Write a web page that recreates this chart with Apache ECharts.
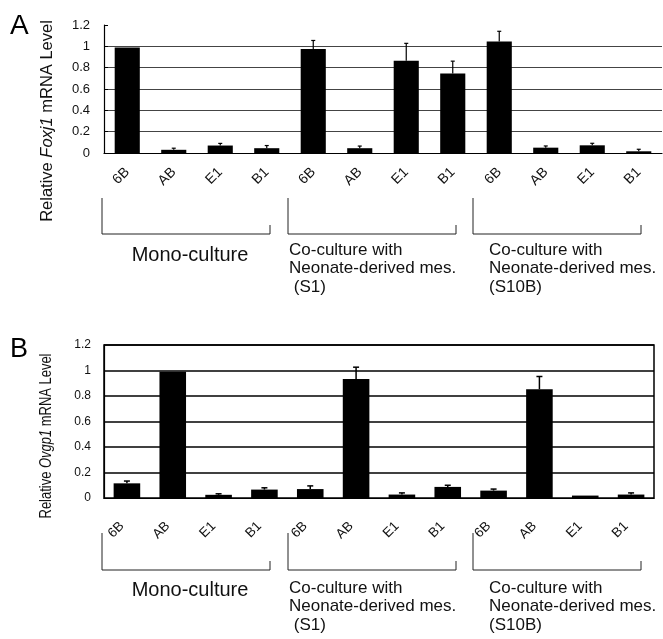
<!DOCTYPE html>
<html>
<head>
<meta charset="utf-8">
<script src="https://cdn.jsdelivr.net/npm/echarts@6/dist/echarts.min.js"></script>
<style>
  html, body { margin: 0; padding: 0; background: #fff; }
  #main { width: 663px; height: 639px; }
</style>
</head>
<body>
<div id="main"></div>
<script>
// categories (3 groups x 4 cell lines)
var categories = ['6B', 'AB', 'E1', 'B1', '6B', 'AB', 'E1', 'B1', '6B', 'AB', 'E1', 'B1'];
var groupNames = ['Mono-culture', 'Co-culture with\nNeonate-derived mes.\n (S1)', 'Co-culture with\nNeonate-derived mes.\n(S10B)'];
var yTicks = [0, 0.2, 0.4, 0.6, 0.8, 1, 1.2];

// A: Foxj1, mean and upper error
var foxj1 = [0.99, 0.03, 0.07, 0.045, 0.975, 0.045, 0.865, 0.745, 1.045, 0.05, 0.072, 0.016];
var foxj1Sd = [0, 0.015, 0.02, 0.025, 0.08, 0.02, 0.163, 0.116, 0.096, 0.016, 0.019, 0.019];

// B: Ovgp1
var ovgp1 = [0.115, 0.99, 0.025, 0.066, 0.07, 0.934, 0.027, 0.087, 0.058, 0.853, 0.019, 0.027];
var ovgp1Sd = [0.018, 0, 0.008, 0.014, 0.025, 0.092, 0.013, 0.013, 0.012, 0.1, 0.006, 0.013];

var FONT = '"Liberation Sans", Arial, sans-serif';
var chart = echarts.init(document.getElementById('main'));

function errorSeries(idx, vals, sds, capW, lw) {
    return {
        type: 'custom',
        xAxisIndex: idx,
        yAxisIndex: idx,
        z: 5,
        silent: true,
        encode: { x: 0, y: 1 },
        data: vals.map(function (v, i) { return [i, v, v + sds[i]]; }),
        renderItem: function (params, api) {
            var top = api.coord([api.value(0), api.value(1)]);
            var hi = api.coord([api.value(0), api.value(2)]);
            if (top[1] - hi[1] < 1) return;
            return {
                type: 'group',
                children: [
                    { type: 'line', shape: { x1: top[0], y1: top[1], x2: hi[0], y2: hi[1] }, style: { stroke: '#000', lineWidth: lw } },
                    { type: 'line', shape: { x1: hi[0] - capW / 2, y1: hi[1], x2: hi[0] + capW / 2, y2: hi[1] }, style: { stroke: '#000', lineWidth: lw } }
                ]
            };
        }
    };
}

function yAxisCfg(idx, fs, margin, gridColor, gridW, inside, showMax) {
    return {
        type: 'value',
        gridIndex: idx,
        min: yTicks[0],
        max: yTicks[yTicks.length - 1],
        interval: yTicks[1] - yTicks[0],
        axisLine: { show: true, lineStyle: { color: '#000', width: 1.2 } },
        axisTick: { show: inside, inside: true, length: 4, lineStyle: { color: '#000' } },
        axisLabel: { color: '#111', fontSize: fs, fontFamily: FONT, margin: margin },
        splitLine: { show: true, showMinLine: false, showMaxLine: showMax, lineStyle: { color: gridColor, width: gridW } }
    };
}

function xAxisCfg(idx, fs, margin, pad) {
    return {
        type: 'category',
        gridIndex: idx,
        data: categories,
        axisLine: { show: true, lineStyle: { color: '#000', width: 1.2 } },
        axisTick: { show: false },
        axisLabel: { rotate: 45, interval: 0, color: '#111', fontSize: fs, fontFamily: FONT, margin: margin, padding: [0, pad, 0, 0] }
    };
}

// group brackets and captions (annotation layout)
var bracketLeft = [102, 288, 473];
var bracketW = 168;
var captionX = [190, 289, 489];

function panelGraphics(top, bottom, shortTop, monoY, coY, lineH) {
    var out = [];
    for (var g = 0; g < 3; g++) {
        var l = bracketLeft[g], r = l + bracketW;
        out.push({
            type: 'polyline',
            shape: { points: [[l, top], [l, bottom], [r, bottom], [r, shortTop]] },
            style: { stroke: '#222', lineWidth: 1, fill: null }
        });
        if (g === 0) {
            out.push({
                type: 'text', x: captionX[g], y: monoY,
                style: { text: groupNames[g], font: '20px ' + FONT, fill: '#111', align: 'center', verticalAlign: 'middle' }
            });
        } else {
            out.push({
                type: 'text', x: captionX[g], y: coY - lineH / 2,
                style: { text: groupNames[g], fontSize: 17, fontFamily: FONT, lineHeight: lineH, fill: '#111', align: 'left', verticalAlign: 'top' }
            });
        }
    }
    return out;
}

function yName(x, y, gene, fs, squeeze) {
    return {
        type: 'text', x: x, y: y, rotation: Math.PI / 2, scaleX: squeeze,
        style: {
            text: 'Relative {i|' + gene + '} mRNA Level',
            fontSize: fs, fontFamily: FONT, fill: '#111', align: 'center', verticalAlign: 'middle',
            rich: { i: { fontStyle: 'italic', fontSize: fs, fontFamily: FONT, fill: '#111' } }
        }
    };
}

var graphics = []
    .concat(panelGraphics(198, 234, 225, 255, 250, 18.5))
    .concat(panelGraphics(533, 570, 561, 590, 588, 18.5));
graphics.push(yName(47, 121, 'Foxj1', 16.5, 1));
graphics.push(yName(47, 436, 'Ovgp1', 16, 0.81));
graphics.push({ type: 'text', x: 10, y: 26, style: { text: 'A', font: '28px ' + FONT, fill: '#000', verticalAlign: 'middle' } });
graphics.push({ type: 'text', x: 10, y: 350, style: { text: 'B', font: '27px ' + FONT, fill: '#000', verticalAlign: 'middle' } });

var option = {
    backgroundColor: '#fff',
    animation: false,
    grid: [
        { left: 104, top: 25, width: 558, height: 128 },
        { left: 104, top: 345, width: 550, height: 153, show: true, borderColor: '#000', borderWidth: 1.5, backgroundColor: 'transparent' }
    ],
    xAxis: [xAxisCfg(0, 14, 17, 0), xAxisCfg(1, 13.5, 21, 7)],
    yAxis: [yAxisCfg(0, 13, 14, '#444', 1, true, false), yAxisCfg(1, 12, 13, '#000', 1.5, false, true)],
    series: [
        { type: 'bar', xAxisIndex: 0, yAxisIndex: 0, data: foxj1, barWidth: '54%', itemStyle: { color: '#000' } },
        errorSeries(0, foxj1, foxj1Sd, 4, 1.2),
        { type: 'bar', xAxisIndex: 1, yAxisIndex: 1, data: ovgp1, barWidth: '58%', itemStyle: { color: '#000' } },
        errorSeries(1, ovgp1, ovgp1Sd, 6, 1.5)
    ],
    graphic: graphics
};

chart.setOption(option);
</script>
</body>
</html>
